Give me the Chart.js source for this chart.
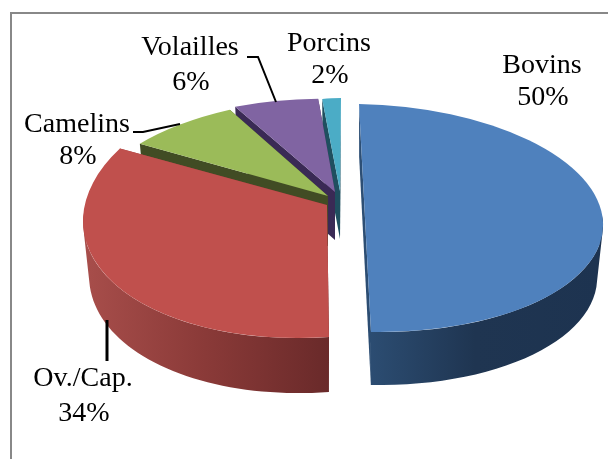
<!DOCTYPE html>
<html lang="fr">
<head>
<meta charset="UTF-8">
<title>Répartition</title>
<script src="https://cdn.jsdelivr.net/npm/chart.js"></script>
<style>
    body { margin: 0; background: #fff; }
    #cadre { position: absolute; left: 10px; top: 12px; width: 598px; height: 447px; box-sizing: border-box; border-left: 2px solid #888; border-top: 2px solid #888; }
    canvas { position: absolute; left: 0; top: 0; }
</style>
</head>
<body>
<div id="cadre"></div>
<canvas id="camembert" width="608" height="459"></canvas>
<script>
    const categories = ['Bovins', 'Ov./Cap.', 'Camelins', 'Volailles', 'Porcins'];
    const valeurs = [50, 34, 8, 6, 2];
    const couleurs = ['#4f81bd', '#c0504d', '#9bbb59', '#8064a2', '#4bacc6'];

    // faux 3D: each slice gets its own affine view [a, b, c, d, e, f] of the pie
    const vues = [
        [238, 4, 6, 114, 365, 218],
        [244, -17, 2, 132, 327, 205],
        [233, -1, -16, 99, 328, 196],
        [229, 8, -12, 93, 335, 192],
        [150, -2, -1, 93, 340, 191]
    ];
    const profondeurs = [53, 55, 50, 48, 48];
    const flancs = [
        ['#2d4f75', '#1f3551', '#1d3350'],
        ['#a84e4b', '#8a3a38', '#6a2a2a'],
        ['#414c24', '#414c24', '#414c24'],
        ['#3a2a55', '#3a2a55', '#3a2a55'],
        ['#1f4f5f', '#1f4f5f', '#1f4f5f']
    ];
    const etiquettes = [
        [542, 73, 543, 105],
        [83, 386, 84, 421],
        [77, 132, 78, 164],
        [190, 55, 191, 90],
        [329, 51, 330, 83]
    ];
    const reperes = [
        { l: 2, pts: [[247, 57], [258, 57], [276, 102]] },
        { l: 2, pts: [[133, 132], [143, 132], [180, 124]] },
        { l: 3, pts: [[107, 320], [107, 361]] }
    ];

    function point(v, ang) {
        const X = Math.cos(ang), Y = Math.sin(ang);
        return [v[4] + v[0] * X + v[2] * Y, v[5] + v[1] * X + v[3] * Y];
    }

    function aire(q) {
        let s = 0;
        q.forEach((a, n) => {
            const b = q[(n + 1) % q.length];
            s += a[0] * b[1] - b[0] * a[1];
        });
        return s;
    }

    function dessinerFlanc(ctx, i, el) {
        const v = vues[i], h = profondeurs[i];
        const p = el.getProps(['startAngle', 'endAngle']);
        const bornes = i == 0 ? [v[4] - 5, v[4] + 110, v[4] + v[0]] : [v[4] - v[0], v[4] - v[0] / 2, v[4]];
        const g = ctx.createLinearGradient(bornes[0], 0, bornes[2], 0);
        g.addColorStop(0, flancs[i][0]);
        g.addColorStop((bornes[1] - bornes[0]) / (bornes[2] - bornes[0]), flancs[i][1]);
        g.addColorStop(1, flancs[i][2]);
        ctx.fillStyle = g;

        // side wall as quads of one path, same winding so they never cancel
        // the base is a bit narrower than the top, only the front half shows
        const bas = q => [v[4] + (q[0] - v[4]) * 0.975, q[1] + h];
        const angles = [];
        for (let k = 0; k <= 60; k++) {
            angles.push(p.startAngle + (p.endAngle - p.startAngle) * k / 60);
        }
        ctx.beginPath();
        for (let k = 0; k < 60; k++) {
            if (Math.sin(angles[k]) < -0.05 && Math.sin(angles[k + 1]) < -0.05) continue;
            const q0 = point(v, angles[k]), q1 = point(v, angles[k + 1]);
            const quad = [q0, q1, bas(q1), bas(q0)];
            if (aire(quad) < 0) quad.reverse();
            quad.forEach((q, n) => n ? ctx.lineTo(q[0], q[1]) : ctx.moveTo(q[0], q[1]));
            ctx.closePath();
        }
        ctx.fill();

        // the two cut faces
        [point(v, angles[0]), point(v, angles[60])].forEach(q => {
            ctx.beginPath();
            ctx.moveTo(v[4], v[5]);
            ctx.lineTo(q[0], q[1]);
            ctx.lineTo(bas(q)[0], bas(q)[1]);
            ctx.lineTo(v[4], v[5] + h);
            ctx.closePath();
            ctx.fill();
        });
    }

    const vue3d = {
        id: 'vue3d',
        beforeDatasetsDraw(chart) {
            const ctx = chart.ctx;
            const arcs = chart.getDatasetMeta(0).data;
            for (let i = arcs.length - 1; i >= 0; i--) {
                const el = arcs[i];
                const p = el.getProps(['x', 'y', 'outerRadius']);
                const v = vues[i], R = p.outerRadius;
                dessinerFlanc(ctx, i, el);
                ctx.save();
                ctx.translate(v[4], v[5]);
                ctx.transform(v[0] / R, v[1] / R, v[2] / R, v[3] / R, 0, 0);
                ctx.translate(-p.x, -p.y);
                el.draw(ctx);
                ctx.restore();
            }
            return false;
        },
        afterDraw(chart) {
            const ctx = chart.ctx;
            ctx.save();
            ctx.strokeStyle = '#000';
            reperes.forEach(r => {
                ctx.lineWidth = r.l;
                ctx.beginPath();
                r.pts.forEach(q => ctx.lineTo(q[0], q[1]));
                ctx.stroke();
            });
            ctx.fillStyle = '#000';
            ctx.textAlign = 'center';
            ctx.font = '28px "Liberation Serif"';
            categories.forEach((nom, i) => {
                const e = etiquettes[i];
                ctx.fillText(nom, e[0], e[1]);
                ctx.fillText(valeurs[i] + '%', e[2], e[3]);
            });
            ctx.restore();
        }
    };

    new Chart(document.getElementById('camembert'), {
        type: 'pie',
        data: {
            labels: categories,
            datasets: [{ data: valeurs, backgroundColor: couleurs, borderWidth: 0 }]
        },
        options: {
            responsive: false,
            animation: false,
            plugins: { legend: { display: false }, tooltip: { enabled: false } }
        },
        plugins: [vue3d]
    });
</script>
</body>
</html>
